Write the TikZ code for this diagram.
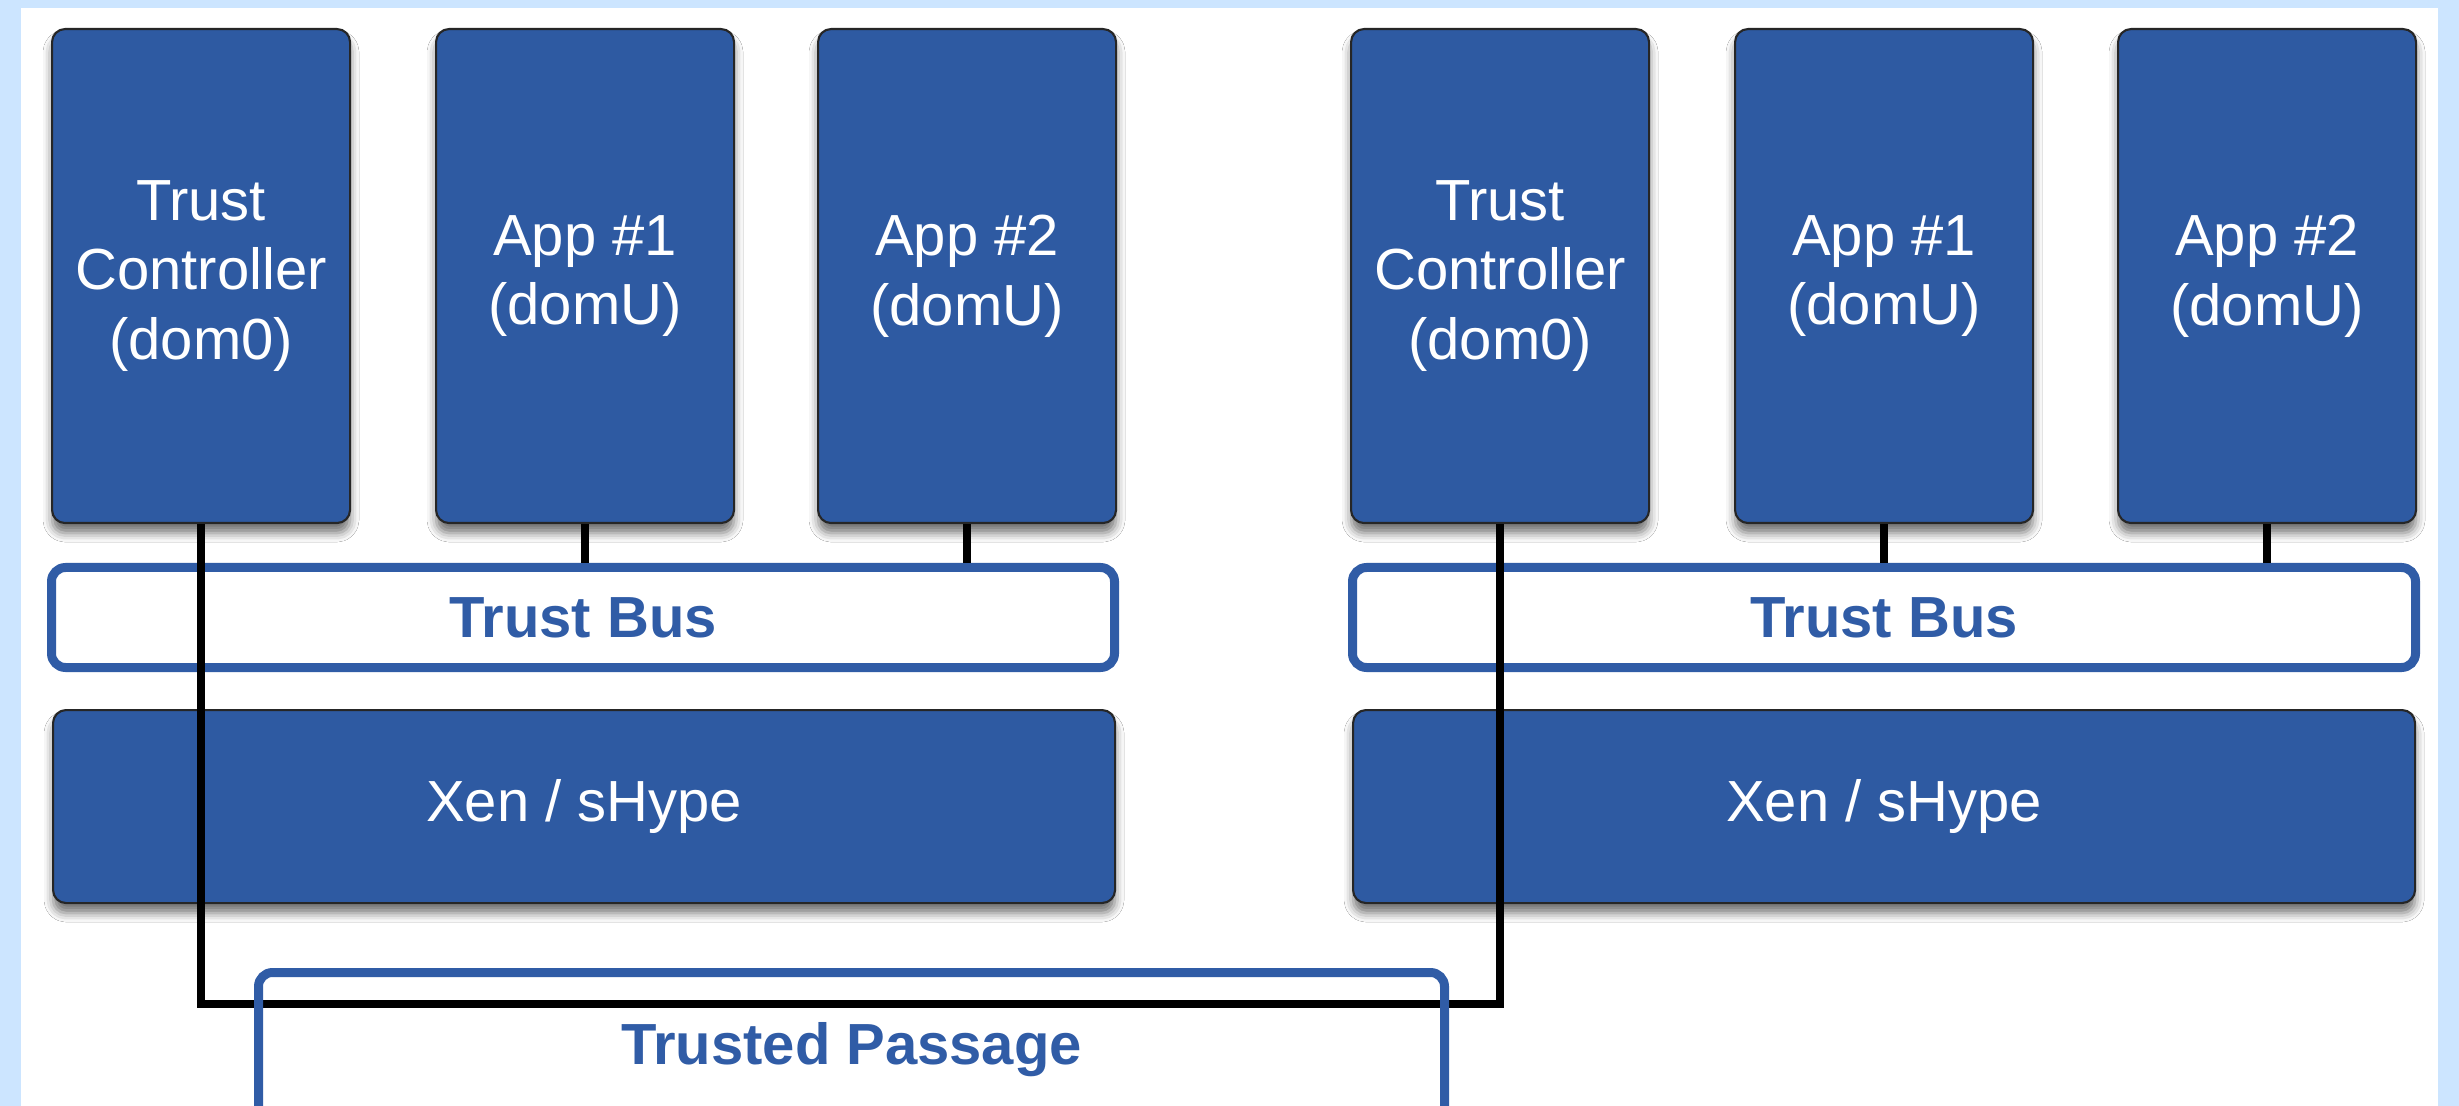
\documentclass[tikz,border=0pt]{standalone}
\usepackage{fontspec}
\setmainfont{Liberation Sans}
\usetikzlibrary{shadows.blur}
\definecolor{bgblue}{RGB}{204,229,255}
\definecolor{boxblue}{RGB}{46,90,162}
\definecolor{busblue}{RGB}{48,92,166}
\tikzset{
  dom/.style={draw=black!85, line width=0.6pt, fill=boxblue, rounded corners=0.13cm,
    text=white, align=center, inner sep=0pt, anchor=north west,
    blur shadow={shadow xshift=0cm, shadow yshift=-0.10cm, shadow blur radius=0.09cm, shadow opacity=55},
    font=\fontsize{16.5}{19.9}\selectfont},
  vm/.style={dom, minimum width=2.98cm, minimum height=4.94cm},
  hyp/.style={dom, minimum width=10.62cm, minimum height=1.93cm},
  bus/.style={draw=busblue, line width=0.09cm, fill=white, rounded corners=0.14cm,
    text=busblue, inner sep=0pt, anchor=north west,
    font=\fontsize{16.5}{19.9}\selectfont\bfseries},
  link/.style={draw=black, line width=0.08cm}
}
\begin{document}
\begin{tikzpicture}
\useasboundingbox (0,0) rectangle (24.59,-11.06);
\clip (0,0) rectangle (24.59,-11.06);
\fill[bgblue] (0,0) rectangle (24.59,-11.06);
\fill[white] (0.21,-0.08) rectangle (24.38,-11.2);

% left host
\node[vm] (tc1) at (0.51,-0.28) {Trust\\Controller\\(dom0)};
\node[vm] (a11) at (4.35,-0.28) {App \#1\\(domU)};
\node[vm] (a21) at (8.17,-0.28) {App \#2\\(domU)};
\node[bus, minimum width=10.63cm, minimum height=1.00cm] (bus1) at (0.47,-5.63) {Trust Bus};
\node[hyp] (xen1) at (0.52,-7.09) {Xen / sHype};

% right host
\node[vm] (tc2) at (13.50,-0.28) {Trust\\Controller\\(dom0)};
\node[vm] (a12) at (17.34,-0.28) {App \#1\\(domU)};
\node[vm] (a22) at (21.17,-0.28) {App \#2\\(domU)};
\node[bus, minimum width=10.63cm, minimum height=1.00cm] (bus2) at (13.48,-5.63) {Trust Bus};
\node[hyp] (xen2) at (13.52,-7.09) {Xen / sHype};

% connectors
\draw[link] (a11.south) -- (a11.south |- bus1.north);
\draw[link] (a21.south) -- (a21.south |- bus1.north);
\draw[link] (a12.south) -- (a12.south |- bus2.north);
\draw[link] (a22.south) -- (a22.south |- bus2.north);
\draw[link] (tc1.south) -- ++(0,-4.80) -| (tc2.south);

% trusted passage (outline drawn over the link, link visible inside)
\node[bus, fill=none, minimum width=11.86cm, minimum height=1.54cm] (tp) at (2.54,-9.68) {Trusted Passage};
\end{tikzpicture}
\end{document}
